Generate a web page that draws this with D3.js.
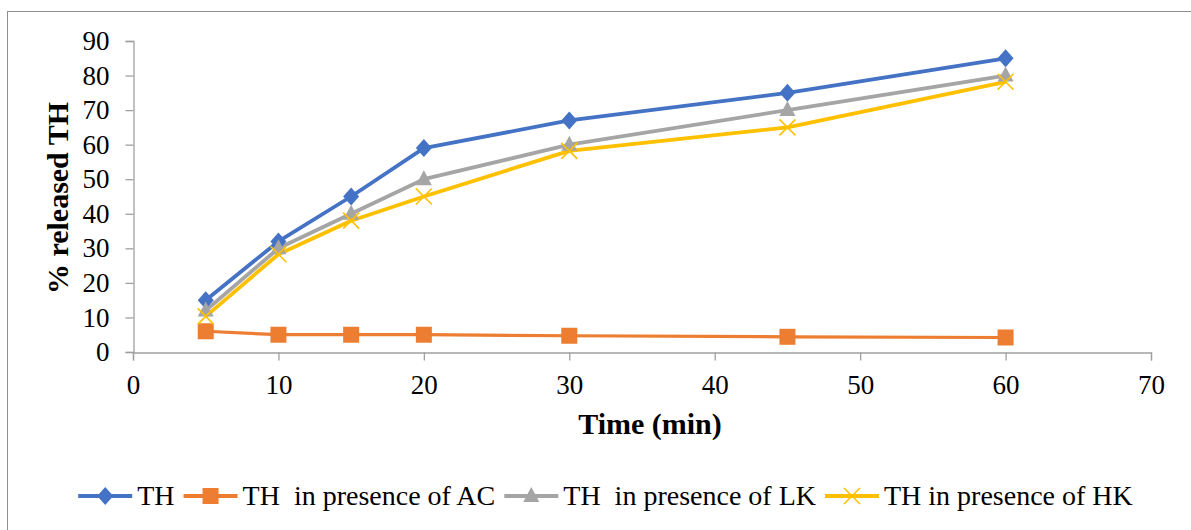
<!DOCTYPE html>
<html>
<head>
<meta charset="utf-8">
<script src="https://cdn.jsdelivr.net/npm/d3@7"></script>
<style>
  body { margin: 0; background: #fff; }
  svg text { font-family: "Liberation Serif", "Times New Roman", "DejaVu Serif", serif; fill: #000; white-space: pre; }
</style>
</head>
<body>
<svg id="chart" width="1191" height="530"></svg>
<script>
// time points (min)
const times = [5, 10, 15, 20, 30, 45, 60];

// % released TH for each condition
const thAlone = [15, 32, 45, 59, 67, 75, 85];
const thAC = [6, 5, 5, 5, 4.7, 4.4, 4.2];
const thLK = [12, 30, 40, 50, 60, 70, 80];
const thHK = [10.3, 28.3, 38, 45, 58.2, 65, 78.2];

const seriesNames = ["TH", "TH  in presence of AC", "TH  in presence of LK", "TH in presence of HK"];
const xTicks = [0, 10, 20, 30, 40, 50, 60, 70];
const yTicks = [0, 10, 20, 30, 40, 50, 60, 70, 80, 90];

const colors = ["#4472C4", "#ED7D31", "#A5A5A5", "#FFC000"];
const shapes = ["diamond", "square", "triangle", "cross"];

const series = [thAlone, thAC, thLK, thHK].map((vals, i) => ({
  name: seriesNames[i],
  color: colors[i],
  shape: shapes[i],
  points: times.map((t, j) => ({ t: t, v: vals[j] }))
}));

const svg = d3.select("#chart");
const axisColor = "#A0A0A0";

// outer chart border
svg.append("rect")
  .attr("x", 7.5).attr("y", 11.5)
  .attr("width", 1220).attr("height", 600)
  .attr("fill", "none").attr("stroke", "#8E8E8E").attr("stroke-width", 1);

const x = d3.scaleLinear().domain([0, 70]).range([133, 1151]);
const y = d3.scaleLinear().domain([0, 90]).range([352, 41]);

// y axis
const yAxis = svg.append("g")
  .attr("transform", "translate(133.5,0)")
  .call(d3.axisLeft(y).tickValues(yTicks).tickSize(8).tickPadding(16));
yAxis.attr("font-family", null);
yAxis.select(".domain").attr("stroke", axisColor).attr("stroke-width", 1.3);
yAxis.selectAll(".tick line").attr("stroke", axisColor).attr("stroke-width", 1.3);
yAxis.selectAll(".tick text")
  .attr("font-size", 27)
  .attr("fill", "#000");

// x axis
const xAxis = svg.append("g")
  .attr("transform", "translate(0,352.5)")
  .call(d3.axisBottom(x).tickValues(xTicks).tickSize(8).tickPadding(14));
xAxis.attr("font-family", null);
xAxis.select(".domain").attr("stroke", axisColor).attr("stroke-width", 1.3);
xAxis.selectAll(".tick line").attr("stroke", axisColor).attr("stroke-width", 1.3);
xAxis.selectAll(".tick text")
  .attr("font-size", 27)
  .attr("fill", "#000");

// axis titles
svg.append("text")
  .attr("x", 650).attr("y", 434)
  .attr("text-anchor", "middle")
  .attr("font-size", 30).attr("font-weight", "bold")
  .text("Time (min)");

svg.append("text")
  .attr("transform", "translate(68,198) rotate(-90)")
  .attr("text-anchor", "middle")
  .attr("font-size", 30).attr("font-weight", "bold")
  .text("% released TH");

// marker drawing
function drawMarker(g, shape, color, cx, cy) {
  if (shape === "diamond") {
    g.append("path").attr("d", "M0,-9L8,0L0,9L-8,0Z")
      .attr("transform", `translate(${cx},${cy})`)
      .attr("fill", color);
  } else if (shape === "square") {
    g.append("rect")
      .attr("x", cx - 8).attr("y", cy - 8).attr("width", 16).attr("height", 16)
      .attr("fill", color);
  } else if (shape === "triangle") {
    g.append("path").attr("d", "M0,-9L8,6L-8,6Z")
      .attr("transform", `translate(${cx},${cy})`)
      .attr("fill", color);
  } else {
    g.append("path").attr("d", "M-8,-8L8,8M-8,8L8,-8")
      .attr("transform", `translate(${cx},${cy})`)
      .attr("fill", "none").attr("stroke", color).attr("stroke-width", 1.6);
  }
}

const line = d3.line().x(d => x(d.t)).y(d => y(d.v));

const plot = svg.append("g");
series.forEach(s => {
  plot.append("path")
    .datum(s.points)
    .attr("d", line)
    .attr("fill", "none")
    .attr("stroke", s.color)
    .attr("stroke-width", s.shape === "square" ? 3.2 : 3.8)
    .attr("stroke-linejoin", "round");
});
series.forEach(s => {
  const g = plot.append("g");
  s.points.forEach(p => drawMarker(g, s.shape, s.color, x(p.t), y(p.v)));
});

// legend
const legend = svg.append("g");
const legendY = 496;
let lx = 0;
series.forEach((s, i) => {
  const g = legend.append("g");
  g.append("line")
    .attr("x1", lx).attr("x2", lx + 54)
    .attr("y1", legendY).attr("y2", legendY)
    .attr("stroke", s.color).attr("stroke-width", 3.8);
  drawMarker(g, s.shape, s.color, lx + 27, legendY);
  const t = g.append("text")
    .attr("x", lx + 59).attr("y", legendY + 9)
    .attr("font-size", 28)
    .text(s.name);
  lx += 59 + t.node().getComputedTextLength() + 9;
});
const totalW = lx - 9;
legend.attr("transform", `translate(${605.5 - totalW / 2},0)`);
</script>
</body>
</html>
